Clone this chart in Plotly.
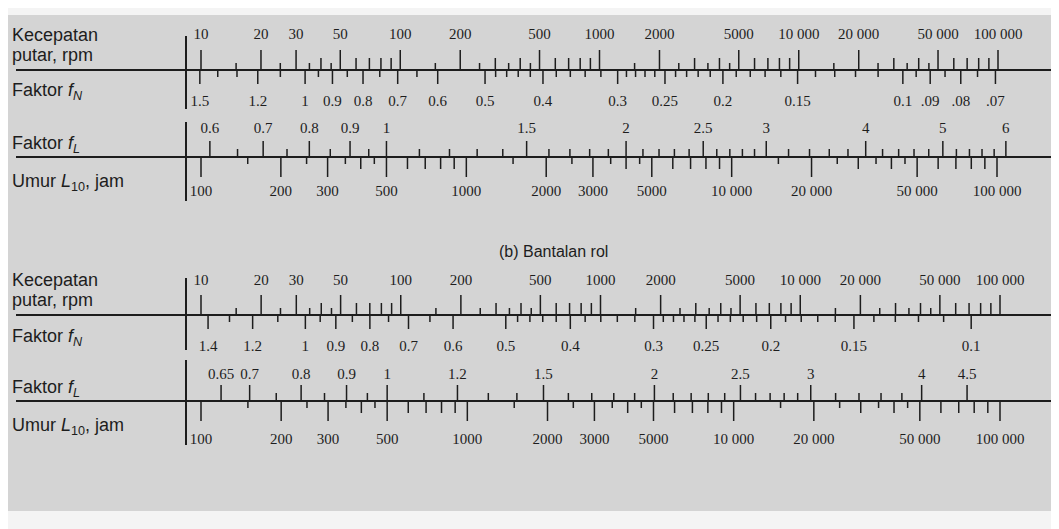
import numpy as np
import plotly.graph_objects as go

W, H = 1059, 529
INK = "#1d1d1d"

# ---------------- data (tick values / labels of the nomogram scales) ----------------
rpm_major = [10, 20, 30, 50, 100, 200, 500, 1000, 2000, 5000, 10000, 20000, 50000, 100000]
rpm_labels = ["10", "20", "30", "50", "100", "200", "500", "1000", "2000", "5000",
              "10 000", "20 000", "50 000", "100 000"]
rpm_mid = [40, 60, 70, 80, 90, 300, 400, 600, 700, 800, 900, 3000, 4000, 6000, 7000, 8000, 9000,
           30000, 40000, 60000, 70000, 80000, 90000]
rpm_short = [15, 25, 35, 45, 150, 250, 350, 450, 1500, 2500, 3500, 4500, 15000, 25000, 35000, 45000]

life_major = [100, 200, 300, 500, 1000, 2000, 3000, 5000, 10000, 20000, 50000, 100000]
life_labels = ["100", "200", "300", "500", "1000", "2000", "3000", "5000",
               "10 000", "20 000", "50 000", "100 000"]
life_mid = [400, 600, 700, 800, 900, 4000, 6000, 7000, 8000, 9000,
            30000, 40000, 60000, 70000, 80000, 90000]
life_short = [150, 250, 350, 450, 1500, 2500, 3500, 4500, 15000, 25000, 35000, 45000]

# (a) ball bearing
ball_fn_major = [1.5, 1.2, 1, 0.9, 0.8, 0.7, 0.6, 0.5, 0.4, 0.3, 0.25, 0.2, 0.15, 0.1, 0.09, 0.08, 0.07]
ball_fn_labels = ["1.5", "1.2", "1", "0.9", "0.8", "0.7", "0.6", "0.5", "0.4", "0.3", "0.25",
                  "0.2", "0.15", "0.1", ".09", ".08", ".07"]
ball_fn_minor = [1.4, 1.3, 1.1, 0.95, 0.85, 0.75, 0.65, 0.48, 0.46, 0.44, 0.42, 0.38, 0.36, 0.34,
                 0.32, 0.29, 0.28, 0.27, 0.26, 0.24, 0.23, 0.22, 0.21, 0.19, 0.18, 0.17, 0.16,
                 0.14, 0.13, 0.12, 0.11, 0.095, 0.085, 0.075]
ball_fl_major = [0.6, 0.7, 0.8, 0.9, 1, 1.5, 2, 2.5, 3, 4, 5, 6]
ball_fl_labels = ["0.6", "0.7", "0.8", "0.9", "1", "1.5", "2", "2.5", "3", "4", "5", "6"]
ball_fl_minor = [0.65, 0.75, 0.85, 0.95, 1.1, 1.2, 1.3, 1.4, 1.6, 1.7, 1.8, 1.9, 2.1, 2.2, 2.3,
                 2.4, 2.6, 2.7, 2.8, 2.9, 3.2, 3.4, 3.6, 3.8, 4.2, 4.4, 4.6, 4.8, 5.2, 5.4, 5.6, 5.8]

# (b) roller bearing
roller_fn_major = [1.4, 1.2, 1, 0.9, 0.8, 0.7, 0.6, 0.5, 0.4, 0.3, 0.25, 0.2, 0.15, 0.1]
roller_fn_labels = ["1.4", "1.2", "1", "0.9", "0.8", "0.7", "0.6", "0.5", "0.4", "0.3", "0.25",
                    "0.2", "0.15", "0.1"]
roller_fn_minor = [1.3, 1.1, 0.95, 0.85, 0.75, 0.65, 0.48, 0.46, 0.44, 0.42, 0.38, 0.36, 0.34,
                   0.32, 0.29, 0.28, 0.27, 0.26, 0.24, 0.23, 0.22, 0.21, 0.19, 0.18, 0.17, 0.16,
                   0.14, 0.13, 0.12, 0.11]
roller_fl_major = [0.65, 0.7, 0.8, 0.9, 1, 1.2, 1.5, 2, 2.5, 3, 4, 4.5]
roller_fl_labels = ["0.65", "0.7", "0.8", "0.9", "1", "1.2", "1.5", "2", "2.5", "3", "4", "4.5"]
roller_fl_minor = [0.75, 0.85, 0.95, 1.1, 1.3, 1.4, 1.6, 1.7, 1.8, 1.9, 2.1, 2.2, 2.3, 2.4,
                   2.6, 2.7, 2.8, 2.9, 3.2, 3.4, 3.6, 3.8]

# nomogram scale definitions: fN = (N_REF/n)^e , fL = (L/L_REF)^e
N_REF = 33.3
L_REF = 500.0
EXP_BALL = 1.0 / 3.0
EXP_ROLLER = 0.3

# ---------------- layout helpers ----------------
def log_range(v_lo, v_hi, px_lo, px_hi):
    a, b = np.log10(v_lo), np.log10(v_hi)
    per_px = (b - a) / (px_hi - px_lo)
    return [a - px_lo * per_px, b + (W - px_hi) * per_px]


def panel_axes(n_px, l_px, e):
    rn = log_range(10, 1e5, *n_px)
    rl = log_range(100, 1e5, *l_px)
    rfn = [e * (np.log10(N_REF) - rn[0]), e * (np.log10(N_REF) - rn[1])]  # reversed
    rfl = [e * (rl[0] - np.log10(L_REF)), e * (rl[1] - np.log10(L_REF))]
    return rn, rfn, rfl, rl


fig = go.Figure()


def ticks(vals, y0, length, axis, width=1.5):
    xs, ys = [], []
    for v in vals:
        xs += [v, v, None]
        ys += [y0, y0 + length, None]
    fig.add_trace(go.Scatter(x=xs, y=ys, xaxis=axis, yaxis="y", mode="lines",
                             line=dict(color=INK, width=width), hoverinfo="skip",
                             showlegend=False))


def labels(vals, texts, y, axis, size=15):
    fig.add_trace(go.Scatter(x=vals, y=[y] * len(vals), text=texts, mode="text",
                             xaxis=axis, yaxis="y", textposition="middle center",
                             textfont=dict(family="Liberation Serif", size=size, color=INK),
                             hoverinfo="skip", showlegend=False))


axes_layout = {}
panels = [
    dict(ax=["x", "x2", "x3", "x4"], rng=panel_axes((193, 990), (193, 989), EXP_BALL),
         l1=62, l2=149, fn=(ball_fn_major, ball_fn_labels, ball_fn_minor),
         fl=(ball_fl_major, ball_fl_labels, ball_fl_minor),
         y_rpm=27, y_fn=94, y_fl=121, y_life=184,
         left=[("Kecepatan", 27), ("putar, rpm", 47), ("Faktor <i>f</i><sub><i>N</i></sub>", 83),
               ("Faktor <i>f</i><sub><i>L</i></sub>", 136), ("Umur <i>L</i><sub>10</sub>, jam", 174)],
         bars=[(28, 101), (114, 193)]),
    dict(ax=["x5", "x6", "x7", "x8"], rng=panel_axes((193, 992), (193, 992), EXP_ROLLER),
         l1=307, l2=393, fn=(roller_fn_major, roller_fn_labels, roller_fn_minor),
         fl=(roller_fl_major, roller_fl_labels, roller_fl_minor),
         y_rpm=273, y_fn=339, y_fl=367, y_life=432,
         left=[("Kecepatan", 272), ("putar, rpm", 292), ("Faktor <i>f</i><sub><i>N</i></sub>", 329),
               ("Faktor <i>f</i><sub><i>L</i></sub>", 380), ("Umur <i>L</i><sub>10</sub>, jam", 418)],
         bars=[(270, 342), (352, 437)]),
]

shapes = [dict(type="rect", xref="paper", yref="y", x0=0, x1=1050 / W, y0=7, y1=503,
               fillcolor="#d4d4d4", line=dict(width=0), layer="below")]
annotations = []

for p in panels:
    ax_n, ax_fn, ax_fl, ax_l = p["ax"]
    rn, rfn, rfl, rl = p["rng"]
    for a, r in zip(p["ax"], [rn, rfn, rfl, rl]):
        key = "xaxis" if a == "x" else "xaxis" + a[1:]
        d = dict(type="log", range=r, visible=False, domain=[0, 1], fixedrange=True)
        if a != "x":
            d["overlaying"] = "x"
        axes_layout[key] = d

    # rpm scale (above line 1)
    ticks(rpm_major, p["l1"], -20, ax_n)
    ticks(rpm_mid, p["l1"], -12, ax_n)
    ticks(rpm_short, p["l1"], -7, ax_n)
    labels(rpm_major, rpm_labels, p["y_rpm"], ax_n)
    # fN scale (below line 1)
    fmaj, flab, fmin = p["fn"]
    ticks(fmaj, p["l1"], 14, ax_fn)
    ticks(fmin, p["l1"], 7, ax_fn)
    labels(fmaj, flab, p["y_fn"], ax_fn)
    # fL scale (above line 2)
    lmaj, llab, lmin = p["fl"]
    ticks(lmaj, p["l2"], -16, ax_fl)
    ticks(lmin, p["l2"], -8, ax_fl)
    labels(lmaj, llab, p["y_fl"], ax_fl)
    # life scale (below line 2)
    ticks(life_major, p["l2"], 20, ax_l)
    ticks(life_mid, p["l2"], 12, ax_l)
    ticks(life_short, p["l2"], 7, ax_l)
    labels(life_major, life_labels, p["y_life"], ax_l)

    for yl in (p["l1"], p["l2"]):
        shapes.append(dict(type="line", xref="paper", yref="y", x0=8 / W, x1=1045 / W,
                           y0=yl, y1=yl, line=dict(color=INK, width=2)))
    for (y0, y1) in p["bars"]:
        shapes.append(dict(type="line", xref="paper", yref="y", x0=178 / W, x1=178 / W,
                           y0=y0, y1=y1, line=dict(color=INK, width=2)))
    for txt, yy in p["left"]:
        annotations.append(dict(text=txt, xref="paper", yref="y", x=2 / W, y=yy,
                                xanchor="left", yanchor="middle", showarrow=False,
                                font=dict(family="Liberation Sans", size=18, color=INK)))

annotations.append(dict(text="(b) Bantalan rol", xref="paper", yref="y", x=545 / W, y=243,
                        xanchor="center", yanchor="middle", showarrow=False,
                        font=dict(family="Liberation Sans", size=16, color=INK)))

fig.update_layout(
    width=W, height=H,
    margin=dict(l=0, r=0, t=0, b=0),
    paper_bgcolor="#f4f4f4", plot_bgcolor="rgba(0,0,0,0)",
    yaxis=dict(range=[H, 0], visible=False, domain=[0, 1], fixedrange=True),
    shapes=shapes, annotations=annotations, showlegend=False,
    **axes_layout,
)

fig.write_html("out.html")
